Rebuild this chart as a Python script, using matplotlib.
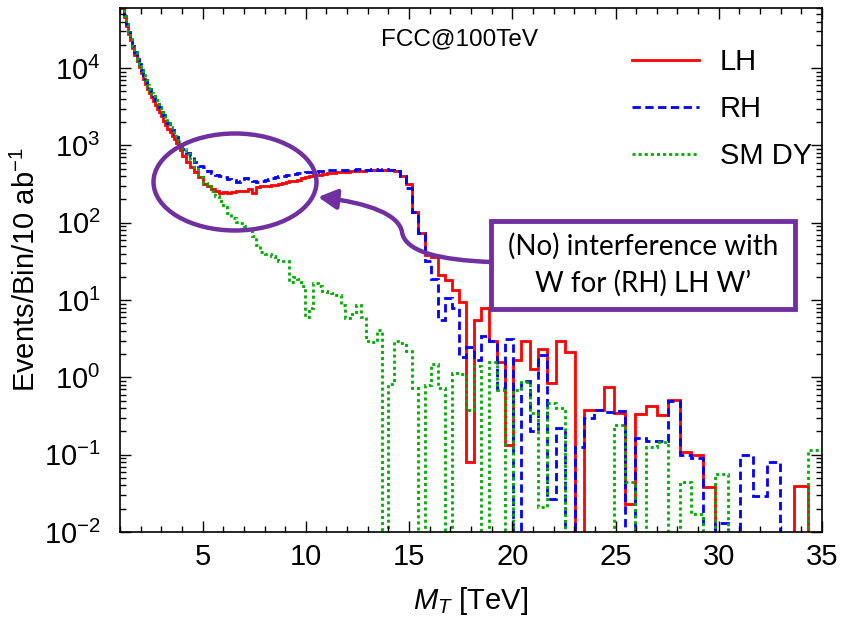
import numpy as np
import matplotlib
matplotlib.use('Agg')
import matplotlib.pyplot as plt
from matplotlib.patches import Ellipse, FancyArrowPatch, Rectangle
from matplotlib.path import Path
from matplotlib.lines import Line2D
from matplotlib.ticker import LogLocator, MultipleLocator, NullFormatter

plt.rcParams['font.family'] = ['Liberation Sans', 'DejaVu Sans']
plt.rcParams['mathtext.fontset'] = 'custom'
plt.rcParams['mathtext.rm'] = 'Liberation Sans'
plt.rcParams['mathtext.it'] = 'Liberation Sans:italic'
plt.rcParams['mathtext.bf'] = 'Liberation Sans:bold'

# ---------------- data ----------------
# bin edges (TeV): 0.1 TeV bins for 1-4, 0.2 TeV bins for 4-8, ~2% log bins above 8
edges = np.concatenate([np.linspace(1.0, 3.9, 30),
                        np.linspace(4.0, 7.8, 20),
                        np.geomspace(8.0, 35.0, 75)])

lh_low = [88000, 60000, 45500, 35500, 28000, 22800, 18300, 15000, 12400, 10300,
          8600, 7300, 6300, 5450, 4800, 4250, 3750, 3350, 2980, 2670,
          2370, 2100, 1850, 1650, 1480, 1330, 1200, 1080, 970, 880]
lh_mid = [720, 620, 530, 450, 390, 320, 295, 270, 255, 245,
          250, 245, 250, 255, 260, 260, 275, 240, 290, 295]
lh_high = [295, 300, 305, 310, 320, 325, 335, 345, 350, 360,
           375, 390, 400, 415, 420, 430, 440, 445, 450, 455,
           460, 465, 470, 465, 480, 475, 485, 480, 480, 470,
           400, 320, 137, 73, 38, 36, 21, 18, 13.5, 9.4,
           0.081, 5.5, 8.0, 3.0, 1.6, 0.135, 1.7, 3.0, 1.3, 2.35,
           0.85, 3.0, 2.1, 0, 0.38, 0.38, 0.74, 0.345, 0.023, 0.34,
           0.43, 0.33, 0.51, 0.107, 0.1, 0.038, 0, 0, 0, 0,
           0, 0, 0.039, 0]

rh_low = [90000, 62000, 47000, 37000, 29500, 24000, 19500, 16000, 13300, 11200,
          9400, 8100, 7000, 6100, 5400, 4800, 4300, 3850, 3450, 3100,
          2750, 2450, 2150, 1950, 1750, 1570, 1420, 1280, 1150, 1040]
rh_mid = [900, 800, 740, 620, 550, 520, 470, 440, 415, 405,
          395, 370, 355, 340, 350, 375, 360, 345, 340, 350]
rh_high = [355, 365, 375, 390, 400, 405, 410, 415, 425, 435,
           445, 450, 455, 460, 465, 470, 475, 480, 480, 485,
           475, 480, 490, 480, 485, 495, 480, 490, 485, 470,
           400, 280, 137, 73, 32, 19, 5.5, 10.5, 7.8, 1.86,
           2.5, 1.68, 3.4, 3.0, 0.72, 3.1, 0, 0.89, 0.2, 1.95,
           0.027, 0.22, 0, 0.126, 0.30, 0.38, 0.36, 0.37, 0, 0.163,
           0.15, 0.15, 0.49, 0.1, 0.09, 0, 0.013, 0, 0.1, 0.029,
           0.081, 0, 0, 0]

dy_low = [90000, 62000, 47000, 37000, 29500, 24000, 19500, 16000, 13300, 11200,
          9400, 8100, 7000, 6100, 5400, 4800, 4300, 3850, 3450, 3100,
          2750, 2450, 2150, 1950, 1750, 1570, 1420, 1280, 1150, 1040]
dy_mid = [900, 780, 640, 500, 390, 330, 295, 255, 220, 190,
          160, 135, 115, 103, 100, 90, 80, 68, 52, 42]
dy_high = [40, 40, 37, 36, 32, 32, 32, 17, 20, 19,
           15, 6.1, 8, 16.5, 15, 13, 12.8, 12.3, 11.7, 8.7,
           5.8, 6.7, 8.7, 6.0, 3.0, 2.9, 4.1, 0, 0.83, 3.0,
           2.8, 2.2, 0.72, 0, 0.8, 1.5, 0.72, 0, 1.15, 1.1,
           0.38, 1.4, 0, 1.6, 0.69, 0, 0.69, 0.88, 0.35, 0.021,
           0.46, 0.40, 0, 0, 0, 0, 0, 0.24, 0.045, 0,
           0.126, 0.147, 0, 0.045, 0.017, 0, 0.057, 0, 0, 0,
           0, 0, 0, 0.115]

x_ticks = [5, 10, 15, 20, 25, 30, 35]
y_ticks = [1e-2, 1e-1, 1e0, 1e1, 1e2, 1e3, 1e4]
series_labels = ['LH', 'RH', 'SM DY']
title_text = 'FCC@100TeV'
note_lines = ['(No) interference with', 'W for (RH) LH W\u2019']

# ---------------- plot ----------------
PURPLE = '#7030A0'
GREEN = '#00AA00'
styles = [dict(color='#FF0000', linestyle='-'),
          dict(color='#0000FF', linestyle=(0, (3, 1.6))),
          dict(color=GREEN, linestyle=(0, (1.1, 1.1)))]

W, H = 850, 619
fig = plt.figure(figsize=(W / 100, H / 100), dpi=100)
ax = fig.add_axes([120 / W, 1 - 532 / H, 702 / W, 524 / H])

all_vals = [lh_low + lh_mid + lh_high,
            rh_low + rh_mid + rh_high,
            dy_low + dy_mid + dy_high]
for vals, st in zip(all_vals, styles):
    v = np.asarray(vals, dtype=float)
    v = np.where(v > 0, v, 1e-9)
    ax.stairs(v, edges, baseline=None, lw=2.0, **st)

ax.set_yscale('log')
ax.set_xlim(1, 35)
ax.set_ylim(1e-2, 6e4)
ax.set_xticks(x_ticks)
ax.set_yticks(y_ticks)
ax.xaxis.set_minor_locator(MultipleLocator(1))
ax.yaxis.set_minor_locator(LogLocator(base=10, subs=np.arange(2, 10), numticks=20))
ax.yaxis.set_minor_formatter(NullFormatter())
ax.tick_params(which='both', direction='in', top=True, right=True, labelsize=21)
ax.tick_params(which='major', length=8, width=1.0)
ax.tick_params(which='minor', length=4, width=1.0)
ax.tick_params(axis='x', which='major', pad=8)
ax.tick_params(axis='y', which='major', pad=14)
for s in ax.spines.values():
    s.set_linewidth(1.2)

ax.set_xlabel(r'$M_T$ [TeV]', fontsize=21, labelpad=10)
ax.set_ylabel(r'Events/Bin/10 ab$^{-1}$', fontsize=21)
ax.yaxis.set_label_coords((41 - 120) / 702, 0.5)

ax.text(460 / W, 1 - 39 / H, title_text, transform=fig.transFigure,
        ha='center', va='center', fontsize=17.5)

handles = [Line2D([], [], lw=2.0, **st) for st in styles]
ax.legend(handles, series_labels, loc='upper left',
          bbox_to_anchor=(632 / W, 1 - 48 / H), bbox_transform=fig.transFigure,
          frameon=False, fontsize=21, handlelength=2.3, handletextpad=0.7,
          labelspacing=0.65, borderpad=0, borderaxespad=0)

# annotation: ellipse, arrow, box
ell = Ellipse((235 / W, 1 - 182 / H), 163 / W, 97 / H, transform=fig.transFigure,
              fill=False, ec=PURPLE, lw=3.2, zorder=5)
fig.add_artist(ell)

def fp(x, y):
    return (x / W, 1 - y / H)

verts = [fp(491, 262), fp(440, 260), fp(405, 252), fp(402, 232),
         fp(399, 215), fp(370, 203), fp(318, 197)]
codes = [Path.MOVETO] + [Path.CURVE4] * 6
arrow = FancyArrowPatch(path=Path(verts, codes),
                        arrowstyle='-|>,head_length=0.75,head_width=0.4',
                        mutation_scale=15, transform=fig.transFigure,
                        color=PURPLE, lw=3.2, zorder=5)
fig.add_artist(arrow)

box = Rectangle((491 / W, 1 - 309 / H), (795 - 491) / W, (309 - 221) / H,
                transform=fig.transFigure, fc='white', ec=PURPLE, lw=3.5, zorder=6)
fig.add_artist(box)
fig.text(643 / W, 1 - 246 / H, note_lines[0], ha='center', va='center',
         fontsize=20, family=['Lato', 'DejaVu Sans'], zorder=7)
fig.text(643 / W, 1 - 283 / H, note_lines[1], ha='center', va='center',
         fontsize=20, family=['Lato', 'DejaVu Sans'], zorder=7)

fig.savefig('out.png', dpi=100)
